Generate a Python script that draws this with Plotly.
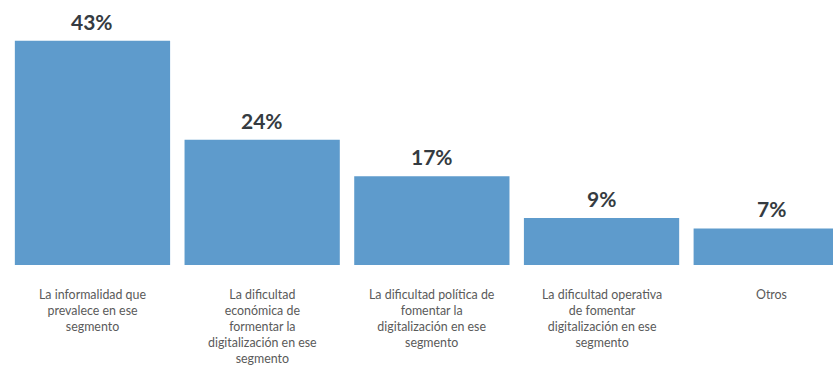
import plotly.graph_objects as go

# Survey shares by reason
categories = [
    "La informalidad que<br>prevalece en ese<br>segmento",
    "La dificultad<br>económica de<br>formentar la<br>digitalización en ese<br>segmento",
    "La dificultad política de<br>fomentar la<br>digitalización en ese<br>segmento",
    "La dificultad operativa<br>de fomentar<br>digitalización en ese<br>segmento",
    "Otros",
]
values = [43, 24, 17, 9, 7]
value_labels = ["43%", "24%", "17%", "9%", "7%"]

BAR_COLOR = "#5e9bcc"
x_idx = list(range(len(values)))

fig = go.Figure(
    go.Bar(
        x=x_idx,
        y=values,
        marker=dict(color=BAR_COLOR, line=dict(width=0)),
        width=0.915,
        hoverinfo="skip",
    )
)

annotations = []
for i, (v, lab) in enumerate(zip(values, value_labels)):
    annotations.append(dict(
        x=i, y=v, xref="x", yref="y", text=f"<b>{lab}</b>",
        showarrow=False, yanchor="bottom", yshift=5,
        font=dict(family="Lato", size=21, color="#353b41"),
    ))
for i, cat in enumerate(categories):
    annotations.append(dict(
        x=i, y=0, xref="x", yref="y", text=cat,
        showarrow=False, yanchor="top", yshift=-20,
        font=dict(family="Lato", size=12.4, color="#5a5a5a"),
        align="center",
    ))

fig.update_layout(
    width=833,
    height=365,
    margin=dict(l=0, r=0, t=0, b=100),
    paper_bgcolor="white",
    plot_bgcolor="white",
    showlegend=False,
    xaxis=dict(range=[-0.545, 4.364], showticklabels=False, showgrid=False,
               zeroline=False, showline=False, fixedrange=True),
    yaxis=dict(range=[0, 50.8], showticklabels=False, showgrid=False,
               zeroline=False, showline=False, fixedrange=True),
    annotations=annotations,
)

fig.write_html("out.html", config={"displayModeBar": False})
